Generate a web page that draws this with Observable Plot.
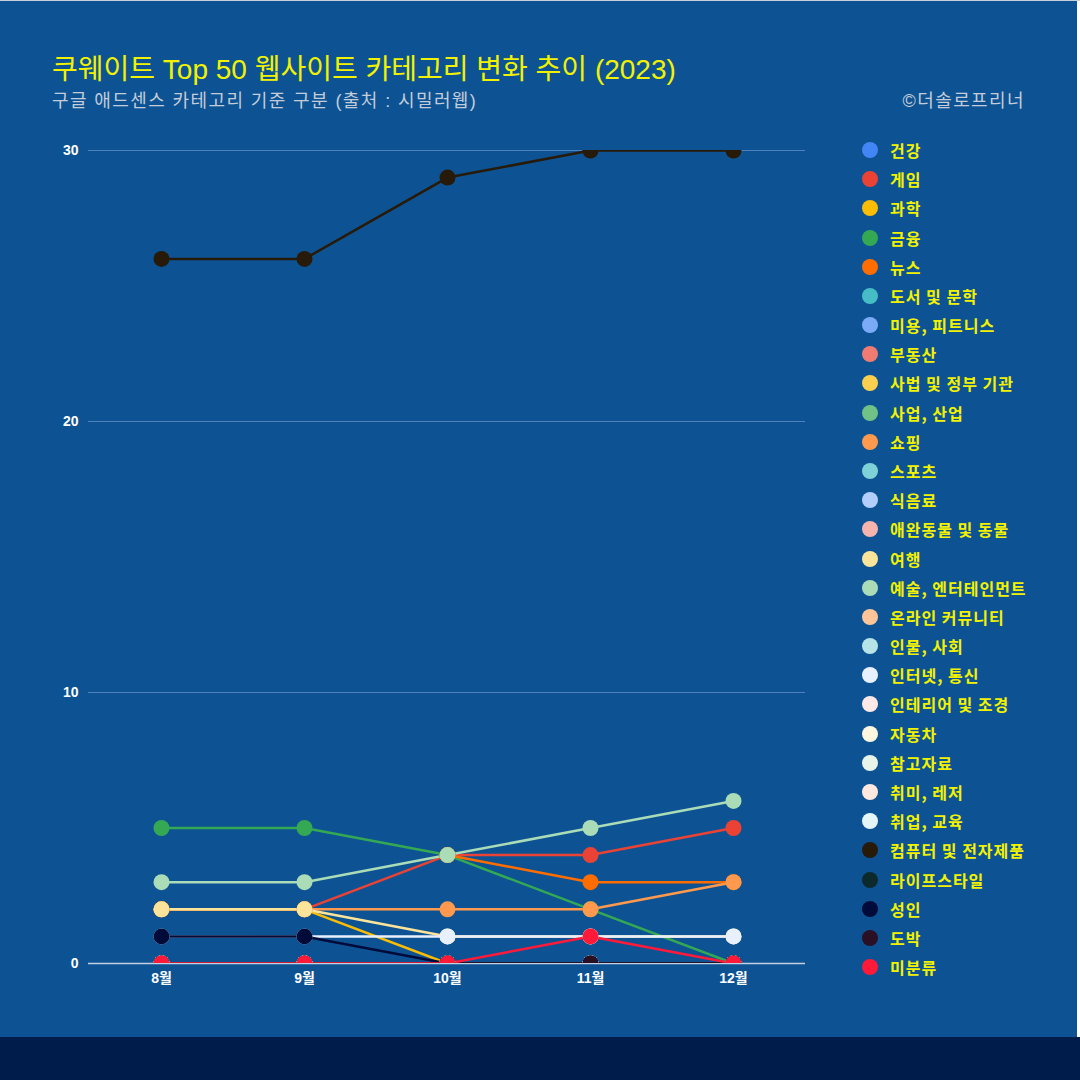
<!DOCTYPE html>
<html>
<head>
<meta charset="utf-8">
<script src="https://cdn.jsdelivr.net/npm/d3@7"></script>
<script src="https://cdn.jsdelivr.net/npm/@observablehq/plot@0.6"></script>
<style>
  html, body { margin: 0; padding: 0; }
  body { width: 1080px; height: 1080px; background: #0d5394; position: relative; overflow: hidden;
         font-family: "Liberation Sans", "Noto Sans CJK KR", sans-serif; }
  #title { position: absolute; left: 52px; top: 47px; font-size: 28px; color: #f2f200; white-space: nowrap; letter-spacing: 0px; }
  #subtitle { position: absolute; left: 52px; top: 86px; font-size: 18px; color: #c3ccd8; white-space: nowrap; letter-spacing: 1.4px; }
  #credit { position: absolute; right: 55px; top: 86px; font-size: 18px; color: #c3ccd8; white-space: nowrap; letter-spacing: 1.4px; }
  #chart { position: absolute; left: 0; top: 120px; }
  #legend { position: absolute; left: 0; top: 0; }
  .item { position: absolute; left: 862px; height: 30px; display: flex; align-items: center; white-space: nowrap; }
  .sw { width: 16px; height: 16px; border-radius: 50%; }
  .lab { margin-left: 12px; font-size: 16px; font-weight: bold; color: #f2f200; letter-spacing: 1px; font-family: "Noto Sans CJK KR", sans-serif; }
  #band { position: absolute; left: 0; top: 1037px; width: 1080px; height: 43px; background: #001c4a; }
  #edge { position: absolute; left: 1077px; top: 0; width: 3px; height: 1037px; background: #ffffff; }
  #topedge { position: absolute; left: 0; top: 0; width: 1080px; height: 1px; background: #c8d0dc; }
</style>
</head>
<body>
<div id="title">쿠웨이트 Top 50 웹사이트 카테고리 변화 추이 (2023)</div>
<div id="subtitle">구글 애드센스 카테고리 기준 구분 (출처 : 시밀러웹)</div>
<div id="credit">©더솔로프리너</div>
<div id="chart"></div>
<div id="legend"></div>
<div id="band"></div>
<div id="edge"></div>
<div id="topedge"></div>
<script>
const months = ["8월", "9월", "10월", "11월", "12월"];
const yTicks = [0, 10, 20, 30];

const categories = [
  "건강", "게임", "과학", "금융", "뉴스", "도서 및 문학", "미용, 피트니스", "부동산",
  "사법 및 정부 기관", "사업, 산업", "쇼핑", "스포츠", "식음료", "애완동물 및 동물",
  "여행", "예술, 엔터테인먼트", "온라인 커뮤니티", "인물, 사회", "인터넷, 통신",
  "인테리어 및 조경", "자동차", "참고자료", "취미, 레저", "취업, 교육",
  "컴퓨터 및 전자제품", "라이프스타일", "성인", "도박", "미분류"
];

const colors = [
  "#4285f4", "#ea4335", "#fbbc04", "#34a853", "#ff6d01", "#46bdc6", "#7baaf7", "#f07b72",
  "#fcd04f", "#71c287", "#ff994d", "#7ed1d7", "#b3cefb", "#f7b4ae",
  "#fde49b", "#aadcb7", "#ffc599", "#b5e3e8", "#e8f0fe",
  "#fce8e6", "#fef7e0", "#e6f4ea", "#fde8e0", "#e5f6f7",
  "#281a08", "#0c2a2c", "#000b3a", "#2a1024", "#ff1a3a"
];

// values per category, in month order (null = not present)
const seriesValues = [
  [0, 0, 0, 0, 0],        // 건강
  [2, 2, 4, 4, 5],        // 게임
  [2, 2, 0, 0, 0],        // 과학
  [5, 5, 4, 2, 0],        // 금융
  [null, null, 4, 3, 3],  // 뉴스
  [0, 0, 0, 0, 0],        // 도서 및 문학
  [0, 0, 0, 0, 0],        // 미용, 피트니스
  [0, 0, 0, 0, 0],        // 부동산
  [0, 0, 0, 0, 0],        // 사법 및 정부 기관
  [0, 0, 0, 0, 0],        // 사업, 산업
  [2, 2, 2, 2, 3],        // 쇼핑
  [0, 0, 0, 0, 0],        // 스포츠
  [0, 0, 0, 0, 0],        // 식음료
  [0, 0, 0, 0, 0],        // 애완동물 및 동물
  [2, 2, 1, 1, 1],        // 여행
  [3, 3, 4, 5, 6],        // 예술, 엔터테인먼트
  [0, 0, 0, 0, 0],        // 온라인 커뮤니티
  [0, 0, 0, 0, 0],        // 인물, 사회
  [1, 1, 1, 1, 1],        // 인터넷, 통신
  [0, 0, 0, 0, 0],        // 인테리어 및 조경
  [0, 0, 0, 0, 0],        // 자동차
  [0, 0, 0, 0, 0],        // 참고자료
  [0, 0, 0, 0, 0],        // 취미, 레저
  [0, 0, 0, 0, 0],        // 취업, 교육
  [26, 26, 29, 30, 30],   // 컴퓨터 및 전자제품
  [0, 0, 0, 0, 0],        // 라이프스타일
  [1, 1, 0, 0, 0],        // 성인
  [0, 0, 0, 0, 0],        // 도박
  [0, 0, 0, 1, 0]         // 미분류
];

const data = [];
categories.forEach((c, i) => {
  months.forEach((m, j) => {
    data.push({cat: c, month: m, value: seriesValues[i][j]});
  });
});

const W = 830;
const chart = Plot.plot({
  width: W,
  height: 883,
  marginLeft: 88,
  marginRight: W - 805,
  marginTop: 30,
  marginBottom: 40,
  style: {background: "transparent", color: "#ffffff", fontFamily: "'Liberation Sans', 'Noto Sans CJK KR', sans-serif", fontSize: "14px", fontWeight: "bold", overflow: "visible"},
  x: {type: "point", domain: months, padding: 0.5, label: null},
  y: {domain: [0, 30], label: null},
  color: {domain: categories, range: colors},
  marks: [
    Plot.gridY(yTicks.filter(t => t > 0), {stroke: "#4f82bd", strokeOpacity: 1, strokeWidth: 1}),
    Plot.ruleY([0], {stroke: "#c3d0e2", strokeWidth: 1.5}),
    Plot.axisY({ticks: yTicks, tickSize: 0, tickPadding: 10, fill: "#ffffff", label: null, fontSize: 14}),
    Plot.axisX({tickSize: 0, tickPadding: 10, fill: "#ffffff", label: null, fontSize: 14}),
    Plot.line(data, {x: "month", y: "value", z: "cat", stroke: "cat", strokeWidth: 2.5, clip: true}),
    Plot.dot(data, {x: "month", y: "value", fill: "cat", r: 8, stroke: null, clip: true})
  ]
});
// enforce tick label font size
chart.querySelectorAll("g[aria-label='y-axis tick label'], g[aria-label='x-axis tick label']").forEach(g => {
  g.setAttribute("font-size", "14");
  g.style.fontSize = "14px";
});
document.getElementById("chart").appendChild(chart);

const legend = document.getElementById("legend");
categories.forEach((c, i) => {
  const it = document.createElement("div");
  it.className = "item";
  it.style.top = (150 + i * 29.18 - 15) + "px";
  const sw = document.createElement("div");
  sw.className = "sw";
  sw.style.background = colors[i];
  const lab = document.createElement("div");
  lab.className = "lab";
  lab.textContent = c;
  it.appendChild(sw);
  it.appendChild(lab);
  legend.appendChild(it);
});
</script>
</body>
</html>
